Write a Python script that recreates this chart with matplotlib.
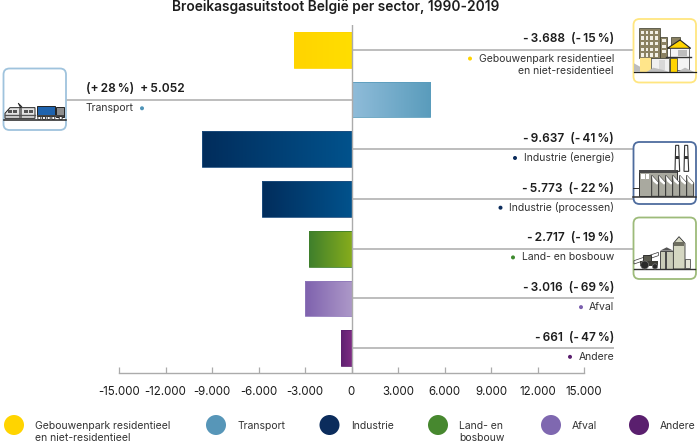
"""Broeikasgasuitstoot Belgie per sector, 1990-2019: diverging bars with icons."""

import numpy as np
import matplotlib

matplotlib.use("Agg")
import matplotlib.pyplot as plt
from matplotlib.colors import LinearSegmentedColormap
from matplotlib.patches import Circle, FancyBboxPatch, Polygon, Rectangle
from matplotlib.ticker import FuncFormatter

plt.rcParams["font.family"] = ["Inter", "DejaVu Sans"]

TITLE = "Broeikasgasuitstoot België per sector, 1990-2019"
SECTORS = ["Gebouwenpark residentieel\nen niet-residentieel", "Transport",
           "Industrie (energie)", "Industrie (processen)",
           "Land- en bosbouw", "Afval", "Andere"]
VALUES = [-3688, 5052, -9637, -5773, -2717, -3016, -661]
PERCENT = [-15, 28, -41, -22, -19, -69, -47]
TICKS = [-15000, -12000, -9000, -6000, -3000, 0, 3000, 6000, 9000, 12000, 15000]
LEGEND_LABELS = ["Gebouwenpark residentieel\nen niet-residentieel", "Transport",
                 "Industrie", "Land- en\nbosbouw", "Afval", "Andere"]

GRADIENT_LEFT = ["#FFD400", "#8FBCD9", "#012D5C", "#012D5C", "#3F7F2C", "#7F62AE", "#5F2170"]
GRADIENT_RIGHT = ["#FFDE00", "#5A9CBC", "#01528C", "#01528C", "#86AC1C", "#AC98C8", "#7E2C84"]
EDGE = ["#FFD400", "#5A9CBC", "#1F4F80", "#1F4F80", "#3F7F2C", "#8F78BA", "#5F2170"]
DOT = ["#FFD400", "#4F94B8", "#0B2C5C", "#0B2C5C", "#3E8A2E", "#7B5FAE", "#5A1F6E"]
LEGEND_COLORS = ["#FFD400", "#5796B8", "#0B2C5C", "#47882F", "#7F68B0", "#5A1F6E"]

GREY = "#ABABAB"
INK = "#1D1D1D"
W, H = 700, 447
THIN = "\u2009"


def value_label(v):
    sign = "+" if v > 0 else "-"
    return f"{sign}{THIN}{abs(v):,}".replace(",", ".")


def pct_label(p):
    sign = "+" if p > 0 else "-"
    return f"({sign}{THIN}{abs(p)}{THIN}%)"


fig = plt.figure(figsize=(W / 100, H / 100), dpi=100)
ax = fig.add_axes([119 / W, 1 - 373 / H, 465 / W, 348 / H])
px = fig.add_axes([0, 0, 1, 1], zorder=3)
px.set_xlim(0, W)
px.set_ylim(H, 0)
px.axis("off")
px.patch.set_alpha(0)

# ---- bars ----
y = np.arange(len(VALUES))
bars = ax.barh(y, VALUES, height=0.72, color="none", linewidth=0.6, zorder=3)
for i, bar in enumerate(bars):
    bar.set_edgecolor(EDGE[i])
    cmap = LinearSegmentedColormap.from_list("bar", [GRADIENT_LEFT[i], GRADIENT_RIGHT[i]])
    x0, x1 = sorted((bar.get_x(), bar.get_x() + bar.get_width()))
    top, bottom = bar.get_y(), bar.get_y() + bar.get_height()
    im = ax.imshow(np.linspace(0, 1, 64)[None, :], cmap=cmap, aspect="auto",
                   extent=(x0, x1, bottom, top), zorder=2)
    im.set_clip_path(bar)

ax.set_xlim(-15000, 15000)
ax.set_ylim(6.5, -0.5)
ax.set_xticks(TICKS)
ax.xaxis.set_major_formatter(FuncFormatter(lambda v, _: f"{int(v):,}".replace(",", ".")))
ax.tick_params(axis="x", direction="in", length=4.3, width=0.9, color=GREY,
               labelsize=8.3, labelcolor=INK, pad=9.6)
ax.set_yticks([])
for side in ("top", "left", "right"):
    ax.spines[side].set_visible(False)
ax.spines["bottom"].set_color(GREY)
ax.spines["bottom"].set_linewidth(1.0)
ax.axvline(0, color=GREY, lw=1.0, zorder=4)
ax.patch.set_alpha(0)

# ---- leader lines and labels ----
LINE_END = [634, 66, 634, 634, 634, 614, 614]
DOT_X = [470, 142, 515, 500.5, 513, 581, 570]
for i, v in enumerate(VALUES):
    yc = 25 + (i + 0.5) * 348 / 7
    px.plot([351.5, LINE_END[i]], [yc, yc], color=GREY, lw=1.1, zorder=1,
            solid_capstyle="butt")
    if v > 0:
        px.text(86, yc - 10.5, f"{pct_label(PERCENT[i])}  {value_label(v)}", ha="left",
                va="center", fontsize=8.6, fontweight="semibold", color=INK)
        px.text(86, yc + 8, SECTORS[i], ha="left", va="center", fontsize=7.5, color="#333333")
    else:
        px.text(614, yc - 10.5, f"{value_label(v)}  {pct_label(PERCENT[i])}", ha="right",
                va="center", fontsize=8.6, fontweight="semibold", color=INK)
        px.text(614, yc + 8.5 if "\n" not in SECTORS[i] else yc + 15, SECTORS[i], ha="right",
                va="center", fontsize=7.5, color="#333333", linespacing=1.25)
    px.add_patch(Circle((DOT_X[i], yc + 8.7), 2.0, fc=DOT[i], ec="none"))

px.text(336, 7, TITLE, ha="center", va="center", fontsize=9.9, fontweight="semibold", color=INK)

# ---- legend ----
LEGEND_X = [14, 216, 329.5, 438, 551, 639]
LEGEND_TEXT_X = [35, 238, 351, 459, 572, 660]
for color, cx, tx, label in zip(LEGEND_COLORS, LEGEND_X, LEGEND_TEXT_X, LEGEND_LABELS):
    px.add_patch(Circle((cx, 425), 10, fc=color, ec="none"))
    px.text(tx, 425 - 4, label, ha="left", va="top", fontsize=7.5, color="#333333",
            linespacing=1.25)


# ---- icons (coordinates are in 3x pixels from the icon's corner) ----
def frame(x0, y0, x1, y1, color):
    px.add_patch(FancyBboxPatch((x0 + 4, y0 + 4), x1 - x0 - 8, y1 - y0 - 8,
                                boxstyle="round,pad=4,rounding_size=6",
                                fc="white", ec=color, lw=1.3, zorder=2))


def box(ox, oy, x0, y0, x1, y1, fc, ec=None, lw=0.5):
    px.add_patch(Rectangle((ox + x0 / 3, oy + y0 / 3), (x1 - x0) / 3, (y1 - y0) / 3,
                           fc=fc, ec=ec if ec else "none", lw=lw, zorder=3))


def poly(ox, oy, pts, fc, ec=None, lw=0.5):
    pts = [(ox + a / 3, oy + b / 3) for a, b in pts]
    px.add_patch(Polygon(pts, fc=fc, ec=ec if ec else "none", lw=lw, zorder=3))


def hline(ox, oy, x0, x1, yy, color="#222222", lw=0.9):
    px.plot([ox + x0 / 3, ox + x1 / 3], [oy + yy / 3, oy + yy / 3], color=color, lw=lw, zorder=4)


def buildings(ox, oy):
    poly(ox, oy, [(12, 170), (12, 145), (30, 155), (30, 170)], "#BDBDBD")
    box(ox, oy, 28, 40, 90, 130, "#8B8262", "#3A3A2A")
    box(ox, oy, 90, 65, 112, 130, "#8B8262", "#3A3A2A")
    box(ox, oy, 122, 67, 150, 100, "#8B8262", "#3A3A2A")
    for row in range(5):
        for col in range(4):
            box(ox, oy, 33 + col * 14, 47 + row * 17, 41 + col * 14, 57 + row * 17, "#F2F0E6")
    for row in range(3):
        box(ox, oy, 95, 72 + row * 17, 107, 81 + row * 17, "#F2F0E6")
    box(ox, oy, 30, 130, 62, 172, "#FFE58A")
    box(ox, oy, 62, 130, 116, 172, "#F0F0F0", "#3A3A2A")
    box(ox, oy, 86, 135, 106, 165, "#D8D8D8")
    poly(ox, oy, [(112, 100), (150, 75), (182, 100)], "#FFD400", "#222222", 0.8)
    box(ox, oy, 120, 100, 178, 165, "#F4F4F4", "#333333")
    box(ox, oy, 120, 130, 142, 170, "#FFD400", "#333333")
    box(ox, oy, 145, 105, 170, 122, "#BDBDBD")
    hline(ox, oy, 108, 182, 125, "#333333", 1.0)
    poly(ox, oy, [(48, 172), (70, 158), (100, 165), (120, 172)], "#BDBDBD")
    poly(ox, oy, [(140, 172), (165, 158), (195, 172)], "#BDBDBD")
    hline(ox, oy, 12, 197, 172)


def transport(ox, oy):
    hline(ox, oy, 12, 197, 165, lw=1.1)
    poly(ox, oy, [(15, 160), (15, 145), (30, 128), (105, 128), (105, 160)],
         "#E4E4E4", "#222222", 0.7)
    hline(ox, oy, 16, 105, 150, "#555555", 1.0)
    for wx in (25, 40, 72, 88):
        box(ox, oy, wx, 135, wx + 11, 144, "#555555")
    box(ox, oy, 58, 128, 67, 160, "#777777")
    px.plot([ox + 62 / 3, ox + 55 / 3, ox + 65 / 3], [oy + 128 / 3, oy + 115 / 3, oy + 125 / 3],
            color="#222222", lw=0.7, zorder=4)
    box(ox, oy, 110, 122, 166, 150, "#1E63AE", "#222222", 0.7)
    box(ox, oy, 168, 125, 192, 155, "#8E8E8E", "#222222", 0.7)
    box(ox, oy, 110, 150, 192, 157, "#444444")
    for wx in (118, 132, 146, 160, 182):
        px.add_patch(Circle((ox + wx / 3, oy + 159 / 3), 1.6, fc="white", ec="#222222",
                            lw=0.6, zorder=5))


def factory(ox, oy):
    for cx in (135, 162):
        poly(ox, oy, [(cx + 2, 22), (cx + 11, 22), (cx + 14, 100), (cx, 100)],
             "white", "#333333", 0.8)
        box(ox, oy, cx + 1, 55, cx + 13, 62, "#333333")
    box(ox, oy, 28, 95, 140, 175, "#A9A99F", "#333333", 0.7)
    box(ox, oy, 28, 95, 140, 105, "#4A4A4A")
    for wx in (33, 47):
        box(ox, oy, wx, 107, wx + 11, 122, "white")
    for i in range(6):
        tx = 65 + i * 21
        poly(ox, oy, [(tx, 175), (tx, 112), (tx + 21, 135), (tx + 21, 175)],
             "#A9A99F", "#333333", 0.7)
        poly(ox, oy, [(tx, 112), (tx + 4, 130), (tx + 16, 140), (tx + 21, 135)], "white")
    hline(ox, oy, 10, 197, 178, "#333333", 1.1)
    box(ox, oy, 10, 150, 28, 153, "#333333")


def farm(ox, oy):
    poly(ox, oy, [(12, 140), (85, 115), (85, 125), (12, 150)], "white", "#333333", 0.5)
    hline(ox, oy, 12, 195, 165, "#333333", 1.0)
    box(ox, oy, 90, 110, 130, 165, "#C9CBB8", "#333333", 0.6)
    poly(ox, oy, [(90, 110), (110, 100), (130, 110)], "#555555")
    box(ox, oy, 105, 110, 110, 165, "#4A4A4A")
    poly(ox, oy, [(130, 165), (130, 88), (147, 68), (165, 88), (165, 165)],
         "#D5D7C2", "#333333", 0.6)
    box(ox, oy, 132, 85, 163, 96, "#6E6E60")
    box(ox, oy, 165, 135, 180, 162, "#E5E5D8", "#333333", 0.5)
    box(ox, oy, 38, 122, 62, 145, "#5A5A50", "#222222", 0.6)
    box(ox, oy, 30, 142, 85, 155, "#3E3E38")
    for wx, r in ((44, 4.0), (75, 2.6)):
        px.add_patch(Circle((ox + wx / 3, oy + (165 - r * 3) / 3), r, fc="#2A2A2A",
                            ec="#777777", lw=0.5, zorder=5))


frame(633.5, 19, 696, 82.5, "#FFE680")
buildings(630, 15)
frame(3.5, 68.5, 66, 130, "#9FC3DD")
transport(0, 65)
frame(633.5, 142, 696, 204, "#4E6C9E")
factory(630, 138)
frame(633.5, 217.5, 696, 279, "#9DBB7A")
farm(630, 214)

fig.savefig("out.png", dpi=100)
